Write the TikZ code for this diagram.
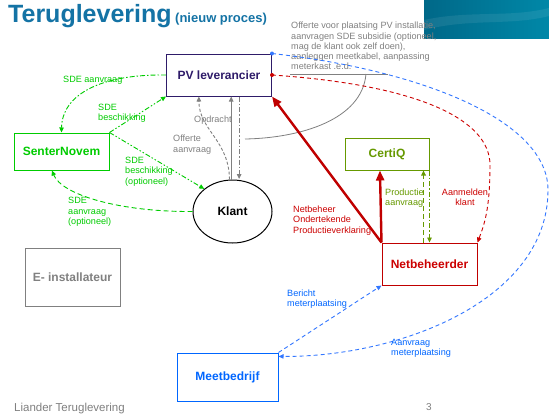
\documentclass[tikz,border=0pt]{standalone}
\usepackage{fontspec}
\setmainfont{Liberation Sans}
\usetikzlibrary{arrows.meta,calc,shapes.geometric}
\definecolor{ttlblue}{RGB}{20,115,165}
\definecolor{sdegreen}{RGB}{0,204,0}
\definecolor{pvpurple}{RGB}{46,27,105}
\definecolor{olivegr}{RGB}{102,153,0}
\definecolor{nbred}{RGB}{192,0,0}
\definecolor{lblred}{RGB}{204,0,0}
\definecolor{mbblue}{RGB}{0,102,255}
\definecolor{lnblue}{RGB}{51,119,255}
\definecolor{midgray}{RGB}{128,128,128}
\definecolor{bannerA}{RGB}{0,104,136}
\definecolor{bannerB}{RGB}{0,136,168}
\tikzset{
  box/.style={draw, rectangle, line width=1pt, inner sep=0pt, font=\bfseries\fontsize{12}{12}\selectfont},
  lbl/.style={inner sep=0pt, align=left, font=\fontsize{9.1}{10.3}\selectfont},
  tip/.style={-{Triangle[length=5pt,width=4.5pt]}},
  bigtip/.style={-{Triangle[length=10pt,width=8pt]}},
  thin line/.style={line width=0.9pt},
  dashdot/.style={dash pattern=on 5pt off 2pt on 1.5pt off 2pt},
  dashdotdot/.style={dash pattern=on 5pt off 2pt on 1.5pt off 2pt on 1.5pt off 2pt},
  longdash/.style={dash pattern=on 5pt off 3pt},
  shortdash/.style={dash pattern=on 4pt off 3pt}
}
\begin{document}
\begin{tikzpicture}[x=1pt,y=-1pt]
\useasboundingbox (0,0) rectangle (549,416);
\fill[white] (0,0) rectangle (549,416);

% banner
\shade[left color=bannerA, right color=bannerB] (424,0) rectangle (549,38);
\fill[white, opacity=0.08] (424,20) .. controls (470,10) and (510,18) .. (549,8) -- (549,16) .. controls (510,26) and (470,18) .. (424,30) -- cycle;

% title
\node[anchor=base west, inner sep=0pt, text=ttlblue, font=\bfseries\fontsize{25}{25}\selectfont] (title) at (8,22) {Teruglevering};
\node[anchor=base west, inner sep=0pt, text=ttlblue, font=\bfseries\fontsize{13}{13}\selectfont] (subtitle) at (175,22) {(nieuw proces)};

% annotation
\node[lbl, anchor=north west, text=midgray] (note) at (291,22) {Offerte voor plaatsing PV installatie,\\aanvragen SDE subsidie (optioneel,\\mag de klant ook zelf doen),\\aanleggen meetkabel, aanpassing\\meterkast .e.d.};

% boxes
\node[box, draw=pvpurple, text=pvpurple, minimum width=105pt, minimum height=42pt] (pv) at (219,75) {PV leverancier};
\node[box, draw=sdegreen, text=sdegreen, minimum width=95pt, minimum height=37pt] (sn) at (61.5,151.5) {SenterNovem};
\node[box, ellipse, draw=black, text=black, minimum width=79pt, minimum height=63pt] (klant) at (232.5,211.5) {Klant};
\node[box, draw=olivegr, text=olivegr, minimum width=84pt, minimum height=32pt] (certiq) at (387,154) {CertiQ};
\node[box, draw=nbred, text=lblred, minimum width=95pt, minimum height=42pt] (nb) at (429.5,264) {Netbeheerder};
\node[box, draw=midgray, text=midgray, minimum width=95pt, minimum height=58pt] (ei) at (72.5,277) {E- installateur};
\node[box, draw=mbblue, text=mbblue, minimum width=101pt, minimum height=48pt] (mb) at (227.5,377) {Meetbedrijf};

% callout from annotation
\coordinate (ula) at (290,74);
\coordinate (ulb) at (388,74);
\coordinate (ulc) at (366,74);
\coordinate (ule) at (245,139);
\draw[midgray, line width=0.8pt] (ula) -- (ulb);
\draw[midgray, line width=0.8pt] (ulc) .. controls (362,120) and (300,138) .. (ule);

% green connectors
\draw[sdegreen, thin line, dashdot, tip] (pv.west) .. controls (100,74) and (62,95) .. (sn.north);
\draw[sdegreen, thin line, dashdotdot, tip] (sn.north east) -- (pv.south west);
\draw[sdegreen, thin line, dashdotdot, tip] (sn.north east) -- (klant.north west);
\draw[sdegreen, thin line, longdash, tip] (klant.west) .. controls (120,212) and (62,195) .. ($(sn.south west)!0.4!(sn.south east)$);

% gray connectors
\coordinate (pvb1) at ($(pv.south west)!0.31!(pv.south east)$);
\coordinate (pvb2) at ($(pv.south west)!0.615!(pv.south east)$);
\coordinate (pvb3) at ($(pv.south west)!0.69!(pv.south east)$);
\draw[midgray, thin line, dash pattern=on 3pt off 2pt, tip] ([xshift=-3pt]klant.north) .. controls (229,140) and (199,130) .. (pvb1);
\draw[midgray, thin line, tip] (klant.north -| pvb2) -- (pvb2);
\draw[midgray, thin line, dashdot, tip] (pvb3) -- ([yshift=0.5pt]klant.north -| pvb3);

% red connectors
\coordinate (cqr) at ($(certiq.south west)!0.417!(certiq.south east)$);
\draw[nbred, line width=2.4pt, bigtip] (nb.north west) -- (pv.south east);
\draw[nbred, line width=2.4pt, bigtip] (nb.north west) -- (cqr);
\draw[lblred, thin line, shortdash, tip] (pv.east) .. controls (420,85) and (490,120) .. (490,165) .. controls (490,210) and (484,225) .. (nb.north east);
\fill[lblred] (pv.east) circle (2pt);

% olive connectors
\coordinate (cqo) at ($(certiq.south west)!0.93!(certiq.south east)$);
\draw[olivegr, line width=1.6pt, longdash, tip] (nb.north -| cqo) -- (cqo);
\draw[olivegr, thin line, dashdot, tip] (certiq.south east) -- (nb.north -| certiq.south east);

% blue connectors
\draw[lnblue, thin line, shortdash, tip] (pv.north east) .. controls (420,70) and (548,120) .. (548,190) .. controls (548,300) and (400,357) .. ($(mb.north east)!0.08!(mb.south east)$);
\draw[lnblue, thin line, shortdash, tip] (mb.north east) -- (nb.south west);
\fill[lnblue] (pv.north east) circle (2pt);

% labels
\node[lbl, text=sdegreen, anchor=west] (lsa) at (63,80) {SDE aanvraag};
\node[lbl, text=sdegreen, anchor=west] (lsb) at (98,113) {SDE\\beschikking};
\node[lbl, text=sdegreen, anchor=west] (lsbo) at (125,171.5) {SDE\\beschikking\\(optioneel)};
\node[lbl, text=sdegreen, anchor=west] (lsao) at (68,212) {SDE\\aanvraag\\(optioneel)};
\node[lbl, text=midgray, anchor=west] (lof) at (173,144.5) {Offerte\\aanvraag};
\node[lbl, text=midgray, anchor=west] (lop) at (194,120) {Opdracht};
\node[lbl, text=lblred, anchor=west] (lnb) at (293,220.5) {Netbeheer\\Ondertekende\\Productieverklaring};
\node[lbl, text=olivegr, anchor=west] (lpa) at (385,198) {Productie\\aanvraag};
\node[lbl, text=lblred, align=center] (lak) at (465,197) {Aanmelden\\klant};
\node[lbl, text=mbblue, anchor=west] (lbm) at (287,299) {Bericht\\meterplaatsing};
\node[lbl, text=mbblue, anchor=west] (lam) at (391,348) {Aanvraag\\meterplaatsing};

% footer
\node[anchor=base west, inner sep=0pt, text=midgray, font=\fontsize{11.5}{11.5}\selectfont] (footer) at (14,411) {Liander Teruglevering};
\node[anchor=base west, inner sep=0pt, text=midgray, font=\fontsize{10}{10}\selectfont] (pagenum) at (426,410) {3};
\end{tikzpicture}
\end{document}
